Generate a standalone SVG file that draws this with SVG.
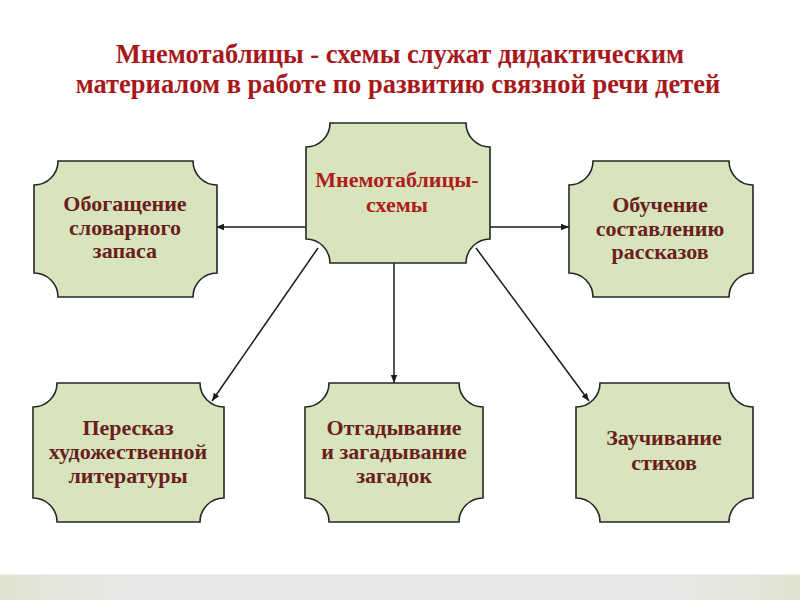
<svg xmlns="http://www.w3.org/2000/svg" width="800" height="600" viewBox="0 0 800 600">
  <defs>
    <style>
      .box { fill: #d7e4bc; stroke: #262626; stroke-width: 1.6; }
      .t { font-family: "Liberation Serif", "Times New Roman", serif; font-weight: bold; text-anchor: middle; }
      .title { font-size: 26.5px; fill: #a8181b; }
      .lbl { font-size: 22px; fill: #6b1e1e; }
      .lblc { font-size: 22px; fill: #b01c1c; }
      .conn { stroke: #1a1a1a; stroke-width: 1.5; fill: none; marker-end: url(#ah); }
    </style>
    <marker id="ah" viewBox="0 0 10 10" refX="10" refY="5" markerWidth="8" markerHeight="8" markerUnits="userSpaceOnUse" orient="auto">
      <path d="M0,1 L10,5 L0,9 Z" fill="#1a1a1a"/>
    </marker>
    <linearGradient id="band" x1="0" y1="0" x2="1" y2="0">
      <stop offset="0" stop-color="#e2e2d0"/>
      <stop offset="0.15" stop-color="#e8e8e6"/>
      <stop offset="0.85" stop-color="#e8e8e6"/>
      <stop offset="1" stop-color="#e2e2d0"/>
    </linearGradient>
  </defs>
  <rect x="0" y="0" width="800" height="600" fill="#ffffff"/>
  <rect x="0" y="574" width="800" height="26" fill="url(#band)"/>
  <line x1="0" y1="574.5" x2="800" y2="574.5" stroke="#f2f2f2" stroke-width="1"/>

  <g id="title">
    <text class="t title" x="400" y="63">Мнемотаблицы - схемы служат дидактическим</text>
    <text class="t title" x="398" y="93">материалом в работе по развитию связной речи детей</text>
  </g>

  <g id="connectors">
    <line class="conn" x1="306" y1="227" x2="216" y2="227"/>
    <line class="conn" x1="490" y1="227" x2="569" y2="227"/>
    <line class="conn" x1="394" y1="263" x2="394" y2="383"/>
    <line class="conn" x1="318" y1="248" x2="212" y2="401"/>
    <line class="conn" x1="476" y1="248" x2="589" y2="401"/>
  </g>

  <g id="center">
    <path class="box" d="M330,123 H466 A24,24 0 0 0 490,147 V239 A24,24 0 0 0 466,263 H330 A24,24 0 0 0 306,239 V147 A24,24 0 0 0 330,123 Z"/>
    <text class="t lblc" x="397" y="187">Мнемотаблицы-</text>
    <text class="t lblc" x="397" y="212">схемы</text>
  </g>

  <g id="vocab">
    <path class="box" d="M58,161 H193 A24,24 0 0 0 217,185 V273 A24,24 0 0 0 193,297 H58 A24,24 0 0 0 34,273 V185 A24,24 0 0 0 58,161 Z"/>
    <text class="t lbl" x="125" y="211">Обогащение</text>
    <text class="t lbl" x="125" y="235">словарного</text>
    <text class="t lbl" x="125" y="258">запаса</text>
  </g>

  <g id="stories">
    <path class="box" d="M593,161 H729 A24,24 0 0 0 753,185 V273 A24,24 0 0 0 729,297 H593 A24,24 0 0 0 569,273 V185 A24,24 0 0 0 593,161 Z"/>
    <text class="t lbl" x="660" y="212">Обучение</text>
    <text class="t lbl" x="660" y="236">составлению</text>
    <text class="t lbl" x="660" y="259">рассказов</text>
  </g>

  <g id="retell">
    <path class="box" d="M57,383 H200 A24,24 0 0 0 224,407 V498 A24,24 0 0 0 200,522 H57 A24,24 0 0 0 33,498 V407 A24,24 0 0 0 57,383 Z"/>
    <text class="t lbl" x="128" y="435">Пересказ</text>
    <text class="t lbl" x="128" y="459">художественной</text>
    <text class="t lbl" x="128" y="483">литературы</text>
  </g>

  <g id="riddles">
    <path class="box" d="M329,383 H459 A24,24 0 0 0 483,407 V498 A24,24 0 0 0 459,522 H329 A24,24 0 0 0 305,498 V407 A24,24 0 0 0 329,383 Z"/>
    <text class="t lbl" x="394" y="435">Отгадывание</text>
    <text class="t lbl" x="394" y="459">и загадывание</text>
    <text class="t lbl" x="394" y="483">загадок</text>
  </g>

  <g id="poems">
    <path class="box" d="M600,383 H729 A24,24 0 0 0 753,407 V498 A24,24 0 0 0 729,522 H600 A24,24 0 0 0 576,498 V407 A24,24 0 0 0 600,383 Z"/>
    <text class="t lbl" x="664" y="445">Заучивание</text>
    <text class="t lbl" x="664" y="470">стихов</text>
  </g>
</svg>
